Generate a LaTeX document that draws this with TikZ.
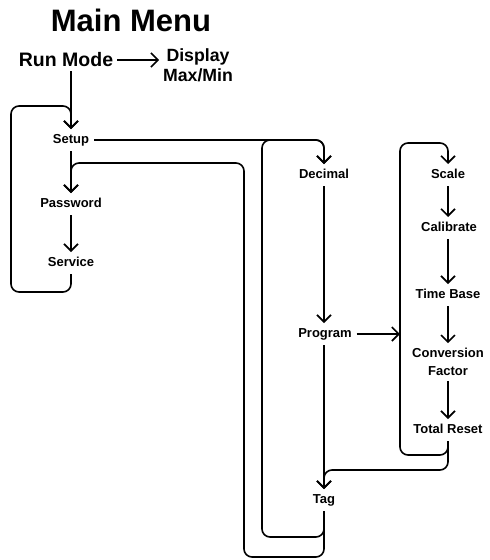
\documentclass[tikz,border=0pt]{standalone}
\usepackage{fontspec}
\setmainfont{Liberation Sans}
\usetikzlibrary{arrows.meta}
\begin{document}
\begin{tikzpicture}[x=1pt,y=-1pt,
  lbl/.style={font=\fontsize{13}{15}\selectfont\bfseries, inner sep=3pt, outer sep=2pt, text height=9pt, text depth=3pt, align=center},
  big/.style={font=\fontsize{19.5}{21}\selectfont\bfseries, inner sep=2pt, outer sep=2pt, align=center},
  conn/.style={line width=1.6pt, rounded corners=8pt},
  arr/.style={conn, -{Straight Barb[length=7pt,width=14pt]}}]
\useasboundingbox (0,0) rectangle (490,560);
\node[font=\fontsize{31}{36}\selectfont\bfseries] (title) at (131,20) {Main Menu};
\node[big] (runmode) at (66,60) {Run Mode};
\node[big, font=\fontsize{17.7}{20}\selectfont\bfseries] (display) at (198,65) {Display\\Max/Min};
\node[lbl] (setup) at (71,140) {Setup};
\node[lbl] (password) at (71,204) {Password};
\node[lbl] (service) at (71,263) {Service};
\node[lbl] (decimal) at (324,175) {Decimal};
\node[lbl] (program) at (325,334) {Program};
\node[lbl] (tag) at (324,500) {Tag};
\node[lbl] (scale) at (448,175) {Scale};
\node[lbl] (calibrate) at (449,228) {Calibrate};
\node[lbl] (timebase) at (448,295) {Time Base};
\node[lbl, font=\fontsize{13}{18}\selectfont\bfseries, text height=, text depth=] (conversion) at (448,362) {Conversion\\Factor};
\node[lbl] (totalreset) at (448,430) {Total Reset};
\coordinate (rbar) at (400,334);
% connectors
\draw[arr] (runmode.east) -- (display.west |- runmode.east);
\draw[arr] (setup.north |- runmode.south) -- (setup.north);
\draw[arr] (service.south) -- (service.south |- 0,292) -- (11,292) -- (11,106) -- (setup.north |- 0,106) -- (setup.north);
\draw[arr] (setup.south) -- (password.north);
\draw[arr] (password.south) -- (service.north);
\draw[arr] (setup.east) -- (decimal.north |- setup.east) -- (decimal.north);
\draw[arr] (tag.south) -- (tag.south |- 0,537) -- (262,537) -- (262,140) -- (decimal.north |- 0,140) -- (decimal.north);
\draw[arr] (tag.south) -- (tag.south |- 0,557) -- (244,557) -- (244,163) -- (password.north |- 0,163) -- (password.north);
\draw[arr] (decimal.south) -- (program.north -| decimal.south);
\draw[arr] (program.south -| tag.north) -- (tag.north);
\draw[arr] (totalreset.south) -- (totalreset.south |- 0,470) -- (tag.north |- 0,470) -- (tag.north);
\draw[arr] (program.east) -- (rbar);
\draw[arr] (totalreset.south) -- (totalreset.south |- 0,455) -- (400,455) -- (400,143) -- (scale.north |- 0,143) -- (scale.north);
\draw[arr] (scale.south) -- (calibrate.north -| scale.south);
\draw[arr] (calibrate.south -| scale.south) -- (timebase.north -| scale.south);
\draw[arr] (timebase.south) -- (conversion.north);
\draw[arr] (conversion.south) -- (totalreset.north);
\end{tikzpicture}
\end{document}
